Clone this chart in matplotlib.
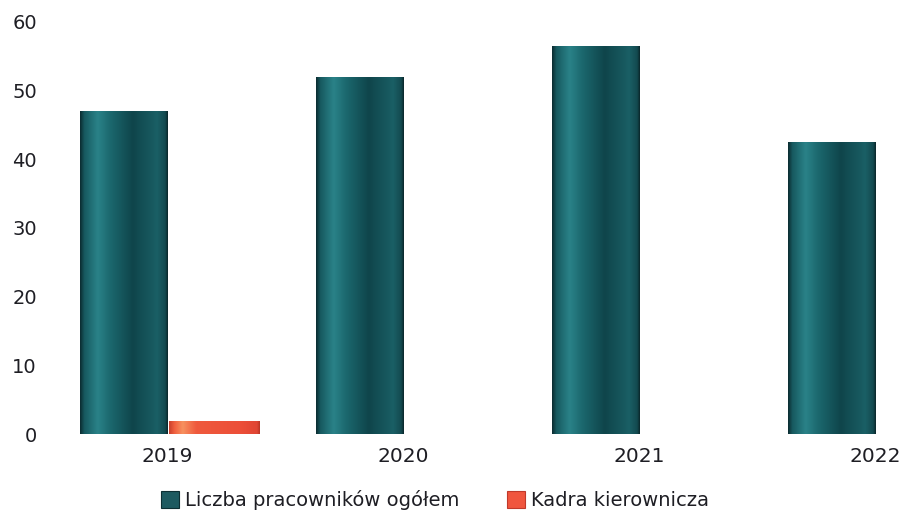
import numpy as np
import matplotlib
matplotlib.use("Agg")
import matplotlib.pyplot as plt
from matplotlib.colors import LinearSegmentedColormap
from matplotlib.patches import Patch

years = ["2019", "2020", "2021", "2022"]
total_staff = [47.0, 52.0, 56.5, 42.5]
management = [1.9, 0, 0, 0]
series_names = ["Liczba pracowników ogółem", "Kadra kierownicza"]
y_ticks = [0, 10, 20, 30, 40, 50, 60]

plt.rcParams["font.family"] = ["DejaVu Sans"]

fig = plt.figure(figsize=(9.04, 5.14), dpi=100)
ax = fig.add_axes([0.0608, 0.1556, 0.9348, 0.8152])

teal_cmap = LinearSegmentedColormap.from_list(
    "teal_bar",
    [(0.0, "#0b2b30"), (0.05, "#175a60"), (0.2, "#2a8288"), (0.35, "#1b676d"),
     (0.6, "#0f454b"), (0.88, "#1a5f65"), (0.97, "#134a50"), (1.0, "#0a262a")])
red_cmap = LinearSegmentedColormap.from_list(
    "red_bar",
    [(0.0, "#c8402c"), (0.06, "#f1603f"), (0.15, "#f7915f"), (0.3, "#ef5a3d"),
     (0.8, "#ec4e38"), (0.97, "#e04634"), (1.0, "#b83525")])

gradient = np.linspace(0, 1, 256).reshape(1, -1)


def shaded_bars(xs, heights, width, cmap):
    bars = ax.bar(xs, heights, width=width, align="edge", color="none",
                  edgecolor="none", zorder=2)
    for bar in bars:
        if bar.get_height() <= 0:
            continue
        x0, y0 = bar.get_x(), bar.get_y()
        x1, y1 = x0 + bar.get_width(), y0 + bar.get_height()
        img = ax.imshow(gradient, cmap=cmap, aspect="auto",
                        extent=(x0, x1, y0, y1), interpolation="bilinear",
                        zorder=3)
        img.set_clip_path(bar)
    return bars


x = np.arange(len(years))
teal_w = 0.37
red_w = 0.385
shaded_bars(x - teal_w, total_staff, teal_w, teal_cmap)
shaded_bars(x + 0.008, management, red_w, red_cmap)

ax.set_xlim(-0.4746, 3.106)
ax.set_ylim(0, 61)
ax.set_xticks(x)
ax.set_xticklabels(years)
ax.set_yticks(y_ticks)
ax.tick_params(axis="both", length=0, labelsize=14, colors="#1e1e24")
ax.tick_params(axis="x", labelsize=14.5, pad=9)
ax.tick_params(axis="y", pad=13)
for s in ax.spines.values():
    s.set_visible(False)

handles = [Patch(facecolor="#1d5a60", edgecolor="#0d2f33", linewidth=0.8),
           Patch(facecolor="#f0553e", edgecolor="#c0392b", linewidth=0.8)]
fig.legend(handles, series_names, loc="center", bbox_to_anchor=(0.481, 0.027),
           ncol=2, frameon=False, fontsize=14, handlelength=0.95,
           handleheight=0.95, handletextpad=0.3, columnspacing=2.45,
           borderpad=0.2, labelcolor="#1e1e24")

fig.savefig("out.png", dpi=100)
